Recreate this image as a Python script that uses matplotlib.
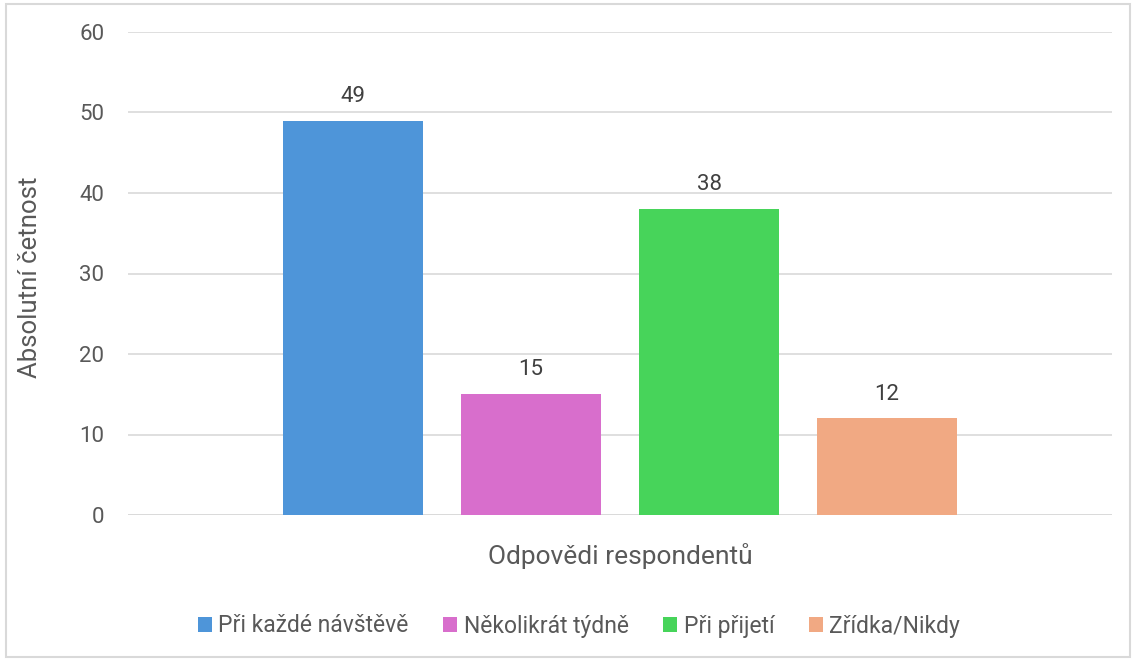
import matplotlib.pyplot as plt
from matplotlib.patches import Rectangle

categories = ["Při každé návštěvě", "Několikrát týdně", "Při přijetí", "Zřídka/Nikdy"]
values = [49, 15, 38, 12]
colors = ["#4E95D9", "#D86ECC", "#47D45A", "#F1A983"]
yticks = [0, 10, 20, 30, 40, 50, 60]

plt.rcParams['font.family'] = ['Roboto', 'DejaVu Sans']
text_color = "#595959"

fig = plt.figure(figsize=(11.37, 6.61), dpi=100)
ax = fig.add_axes([128 / 1137, 1 - 515 / 661, (1112 - 128) / 1137, (515 - 32) / 661])

x = list(range(len(categories)))
bars = ax.bar(x, values, width=0.79, color=colors, label=categories, zorder=3)
for b, v in zip(bars, values):
    ax.annotate(str(v), (b.get_x() + b.get_width() / 2, v), xytext=(0, 10),
                textcoords="offset points", ha="center", va="bottom",
                fontsize=16, color="#404040")

ax.set_xlim(-1.264, 4.264)
ax.set_ylim(0, 60)
ax.set_yticks(yticks)
ax.yaxis.grid(True, color="#D9D9D9", linewidth=1.2, zorder=0)
ax.set_xticks([])
for s in ax.spines.values():
    s.set_visible(False)
ax.axhline(0, color="#D9D9D9", linewidth=1.2, zorder=2)
ax.tick_params(axis="y", length=0, pad=17, labelsize=16, labelcolor=text_color)

fig.text(30 / 1137, 1 - 277 / 661, "Absolutní četnost", rotation=90, ha="center", va="center",
         fontsize=18.5, color=text_color)
fig.text(620 / 1137, 1 - 556 / 661, "Odpovědi respondentů", ha="center", va="center",
         fontsize=19, color=text_color)

fig.legend(handles=bars, labels=categories, loc="center", bbox_to_anchor=(579 / 1137, 1 - 626 / 661),
           ncol=4, frameon=False, fontsize=16.5, handlelength=0.6, handleheight=0.6,
           handletextpad=0.3, columnspacing=1.5, labelcolor=text_color)

fig.patches.append(Rectangle((6 / 1137, 1 - 657 / 661), 1124 / 1137, 653 / 661,
                             transform=fig.transFigure, fill=False,
                             edgecolor="#D9D9D9", linewidth=1.5))

fig.savefig("out.png", dpi=100)
